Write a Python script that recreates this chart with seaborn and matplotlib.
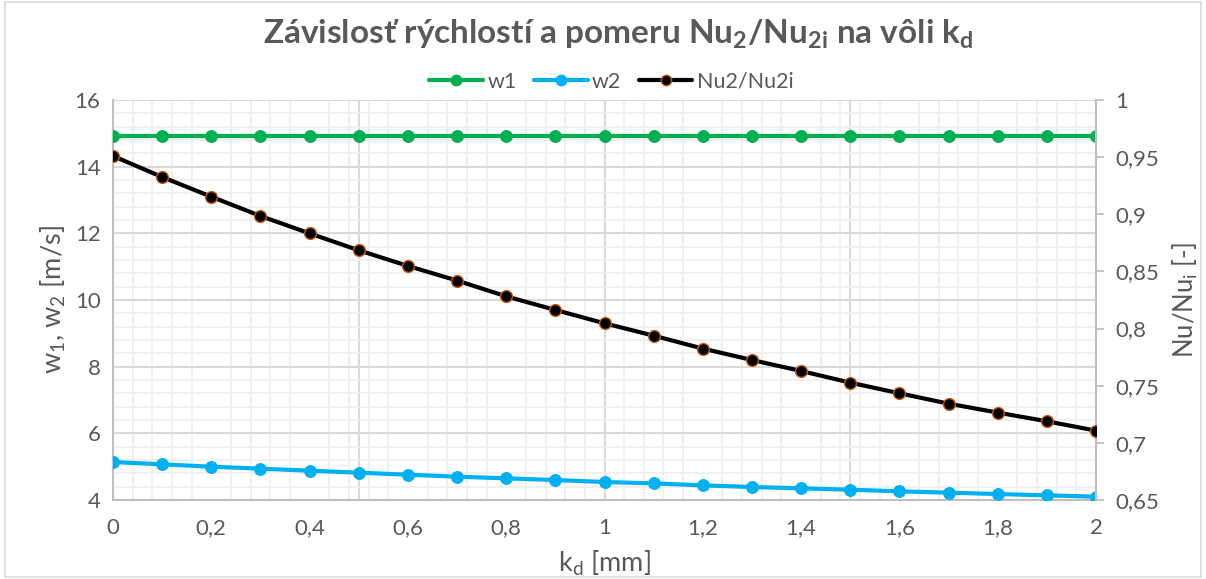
import numpy as np
import matplotlib
matplotlib.use("Agg")
import matplotlib.pyplot as plt
from matplotlib.ticker import FixedLocator, FuncFormatter, MultipleLocator
from matplotlib.lines import Line2D
from matplotlib.patches import Rectangle
import pandas as pd
import seaborn as sns

# clearance k_d [mm]
kd = [0.0, 0.1, 0.2, 0.3, 0.4, 0.5, 0.6, 0.7, 0.8, 0.9, 1.0,
      1.1, 1.2, 1.3, 1.4, 1.5, 1.6, 1.7, 1.8, 1.9, 2.0]
# inlet velocity w1 [m/s]
w1 = [14.92] * 21
# outlet velocity w2 [m/s]
w2 = [5.14, 5.07, 5.00, 4.94, 4.88, 4.82, 4.76, 4.70, 4.65, 4.60, 4.54,
      4.50, 4.44, 4.39, 4.35, 4.31, 4.26, 4.22, 4.18, 4.14, 4.10]
# Nusselt number ratio Nu2/Nu2i [-]
nu_ratio = [0.951, 0.9326, 0.9154, 0.8985, 0.8833, 0.8685, 0.8548, 0.8420,
            0.8282, 0.8163, 0.8046, 0.7938, 0.7825, 0.7725, 0.7629, 0.7527,
            0.7434, 0.7343, 0.7265, 0.7189, 0.7107]

x_ticks = [0.0, 0.2, 0.4, 0.6, 0.8, 1.0, 1.2, 1.4, 1.6, 1.8, 2.0]
left_ticks = [4, 6, 8, 10, 12, 14, 16]
right_ticks = [0.65, 0.70, 0.75, 0.80, 0.85, 0.90, 0.95, 1.00]

df = pd.DataFrame({"kd": kd, "w1": w1, "w2": w2, "ratio": nu_ratio})

sns.set_theme(style="white")
plt.rcParams["font.family"] = ["Lato", "DejaVu Sans"]
plt.rcParams["mathtext.default"] = "regular"

GREEN = "#00B050"
BLUE = "#00B0F0"
ORANGE = "#C55A11"
TXT = "#595959"
MAJ = "#D9D9D9"
MIN = "#EFEFEF"

fig = plt.figure(figsize=(12.06, 5.79), dpi=100)
fig.patches.append(Rectangle((0.004, 0.004), 0.992, 0.992, transform=fig.transFigure,
                             fill=False, edgecolor="#D9D9D9", linewidth=1.2))
ax = fig.add_axes([0.0937, 0.1364, 0.8151, 0.6909])
ax2 = ax.twinx()

lw = 3.0
ms = 8.5
sns.lineplot(data=df, x="kd", y="w1", ax=ax, color=GREEN, linewidth=lw,
             marker="o", markersize=ms, markeredgecolor=GREEN, zorder=5)
sns.lineplot(data=df, x="kd", y="w2", ax=ax, color=BLUE, linewidth=lw,
             marker="o", markersize=ms, markeredgecolor=BLUE, zorder=5)
sns.lineplot(data=df, x="kd", y="ratio", ax=ax2, color="black", linewidth=lw,
             marker="o", markersize=ms, markeredgecolor=ORANGE,
             markeredgewidth=1.0, zorder=5)

ax.set_xlim(0, 2)
ax.set_ylim(4, 16)
ax2.set_ylim(0.65, 1.0)

# grid: fine lines every 0.04 mm / 0.4 m/s, heavier every 0.5 mm / 2 m/s
minor_x = [round(v, 2) for v in np.arange(0.04, 2.0, 0.04)
           if abs(v / 0.2 - round(v / 0.2)) > 1e-6]
ax.xaxis.set_minor_locator(FixedLocator(minor_x))
ax.yaxis.set_minor_locator(MultipleLocator(0.4))
ax.grid(which="minor", color=MIN, linewidth=1.3, zorder=0)
ax.grid(which="major", axis="y", color=MAJ, linewidth=1.5, zorder=0)
ax.grid(which="major", axis="x", visible=False)
for xv in [0.5, 1.0, 1.5]:
    ax.axvline(xv, color=MAJ, linewidth=1.5, zorder=0.5)
ax.set_axisbelow(True)

comma = FuncFormatter(lambda v, p: ("%g" % round(v, 3)).replace(".", ","))
ax.xaxis.set_major_locator(FixedLocator(x_ticks))
ax.yaxis.set_major_locator(FixedLocator(left_ticks))
ax2.yaxis.set_major_locator(FixedLocator(right_ticks))
ax.xaxis.set_major_formatter(comma)
ax.yaxis.set_major_formatter(comma)
ax2.yaxis.set_major_formatter(comma)

ax.tick_params(axis="both", which="both", length=0, labelsize=16, labelcolor=TXT)
ax.tick_params(axis="x", pad=13)
ax.tick_params(axis="y", pad=9)
ax2.tick_params(axis="y", which="major", length=6, width=1.3, color="#BFBFBF",
                labelsize=16, labelcolor=TXT, pad=8, direction="out")
ax2.tick_params(axis="y", which="minor", length=0)

for a in (ax, ax2):
    for s in a.spines.values():
        s.set_visible(False)
for side in ("left", "bottom"):
    ax.spines[side].set_visible(True)
    ax.spines[side].set_color("#BFBFBF")
    ax.spines[side].set_linewidth(1.5)
ax2.spines["right"].set_visible(True)
ax2.spines["right"].set_color("#BFBFBF")
ax2.spines["right"].set_linewidth(1.5)

ax.set_xlabel("k$_d$ [mm]", fontsize=19.5, color=TXT, labelpad=8)
ax.set_ylabel("w$_1$, w$_2$ [m/s]", fontsize=19.5, color=TXT, labelpad=5)
ax2.set_ylabel("Nu/Nu$_i$ [-]", fontsize=18.5, color=TXT, labelpad=8)

fig.text(0.513, 1 - 44 / 579, "Závislosť rýchlostí a pomeru Nu$_2$/Nu$_{2i}$ na vôli k$_d$",
         ha="center", va="baseline", fontsize=24, fontweight="bold", color=TXT)

handles = [
    Line2D([], [], color=GREEN, linewidth=lw, marker="o", markersize=7.5,
           markeredgecolor=GREEN, label="w1"),
    Line2D([], [], color=BLUE, linewidth=lw, marker="o", markersize=7.5,
           markeredgecolor=BLUE, label="w2"),
    Line2D([], [], color="black", linewidth=lw, marker="o", markersize=7.5,
           markeredgecolor=ORANGE, label="Nu2/Nu2i"),
]
leg = fig.legend(handles=handles, loc="center", bbox_to_anchor=(0.507, 1 - 82 / 579),
                 ncol=3, frameon=False, fontsize=15.5, handlelength=2.5,
                 handletextpad=0.2, columnspacing=0.8, labelcolor=TXT)

fig.savefig("out.png", dpi=100)
